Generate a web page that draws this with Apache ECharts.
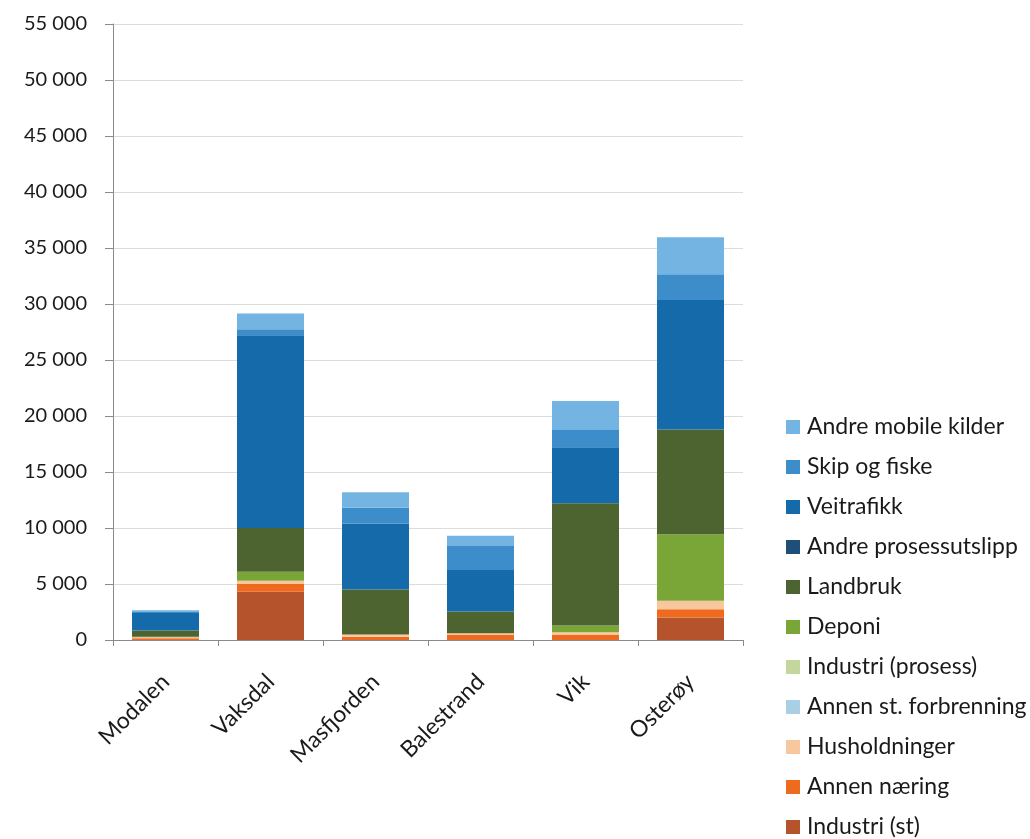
<!DOCTYPE html>
<html>
<head>
<meta charset="utf-8">
<script src="https://cdn.jsdelivr.net/npm/echarts@6/dist/echarts.min.js"></script>
<style>
  html, body { margin: 0; padding: 0; background: #fff; }
  #chart { width: 1030px; height: 839px; }
</style>
</head>
<body>
<div id="chart"></div>
<script>
// Kommuner
const categories = ['Modalen', 'Vaksdal', 'Masfjorden', 'Balestrand', 'Vik', 'Osterøy'];

// Utslipp per kilde (stablet nedenfra og opp)
const industriSt         = [0,    4300, 0,    0,    0,     2000];
const annenNaering       = [150,  700,  300,  450,  450,   750];
const husholdninger      = [100,  300,  200,  150,  250,   750];
const annenStForbrenning = [0,    0,    0,    0,    0,     0];
const industriProsess    = [0,    0,    0,    0,    0,     0];
const deponi             = [50,   800,  0,    0,    600,   5950];
const landbruk           = [550,  3900, 4000, 1950, 10900, 9350];
const andreProsess       = [0,    0,    0,    0,    0,     0];
const veitrafikk         = [1550, 17200, 5900, 3700, 5000, 11550];
const skipOgFiske        = [100,  550,  1400, 2150, 1550,  2300];
const andreMobile        = [150,  1400, 1400, 900,  2600,  3300];

const yTicks = [0, 5000, 10000, 15000, 20000, 25000, 30000, 35000, 40000, 45000, 50000, 55000];

const seriesDefs = [
  { name: 'Industri (st)',          data: industriSt,         color: '#B5532C' },
  { name: 'Annen næring',           data: annenNaering,       color: '#EE6A1E' },
  { name: 'Husholdninger',          data: husholdninger,      color: '#F8C79E' },
  { name: 'Annen st. forbrenning',  data: annenStForbrenning, color: '#A9CFE4' },
  { name: 'Industri (prosess)',     data: industriProsess,    color: '#C3D69B' },
  { name: 'Deponi',                 data: deponi,             color: '#7AA537' },
  { name: 'Landbruk',               data: landbruk,           color: '#4E6430' },
  { name: 'Andre prosessutslipp',   data: andreProsess,       color: '#1F4E79' },
  { name: 'Veitrafikk',             data: veitrafikk,         color: '#156AAA' },
  { name: 'Skip og fiske',          data: skipOgFiske,        color: '#3E8DCB' },
  { name: 'Andre mobile kilder',    data: andreMobile,        color: '#74B4E2' }
];

const fmt = v => String(v).replace(/\B(?=(\d{3})+(?!\d))/g, '\u202F');

const chart = echarts.init(document.getElementById('chart'), null, { renderer: 'canvas' });

chart.setOption({
  animation: false,
  backgroundColor: '#ffffff',
  textStyle: { fontFamily: 'Lato, "Open Sans", sans-serif' },
  grid: { left: 113, right: 287, top: 24, bottom: 199, containLabel: false },
  legend: {
    orient: 'vertical',
    left: 786,
    top: 414,
    height: 430,
    padding: 0,
    itemWidth: 14,
    itemHeight: 14,
    itemGap: 14,
    icon: 'rect',
    data: seriesDefs.map(s => s.name).reverse(),
    textStyle: { fontSize: 23, color: '#1a1a1a', fontFamily: 'Lato, sans-serif', lineHeight: 26, padding: [0, 0, 0, 2] }
  },
  xAxis: {
    type: 'category',
    data: categories,
    axisLine: { lineStyle: { color: '#8a8a8a', width: 1 } },
    axisTick: { show: true, length: 6, alignWithLabel: false, lineStyle: { color: '#8a8a8a' } },
    axisLabel: { rotate: 45, fontSize: 23, color: '#1a1a1a', margin: 38, fontFamily: 'Lato, sans-serif' }
  },
  yAxis: {
    type: 'value',
    min: yTicks[0],
    max: yTicks[yTicks.length - 1],
    interval: yTicks[1] - yTicks[0],
    axisLine: { show: true, lineStyle: { color: '#8a8a8a', width: 1 } },
    axisTick: { show: true, length: 8, lineStyle: { color: '#8a8a8a' } },
    splitLine: { show: true, lineStyle: { color: '#dcdcdc', width: 1 } },
    axisLabel: { fontSize: 20, color: '#1a1a1a', margin: 26, fontFamily: 'Lato, sans-serif', formatter: fmt }
  },
  series: seriesDefs.map(s => ({
    name: s.name,
    type: 'bar',
    stack: 'total',
    barWidth: 67,
    data: s.data,
    itemStyle: { color: s.color }
  }))
});
</script>
</body>
</html>
